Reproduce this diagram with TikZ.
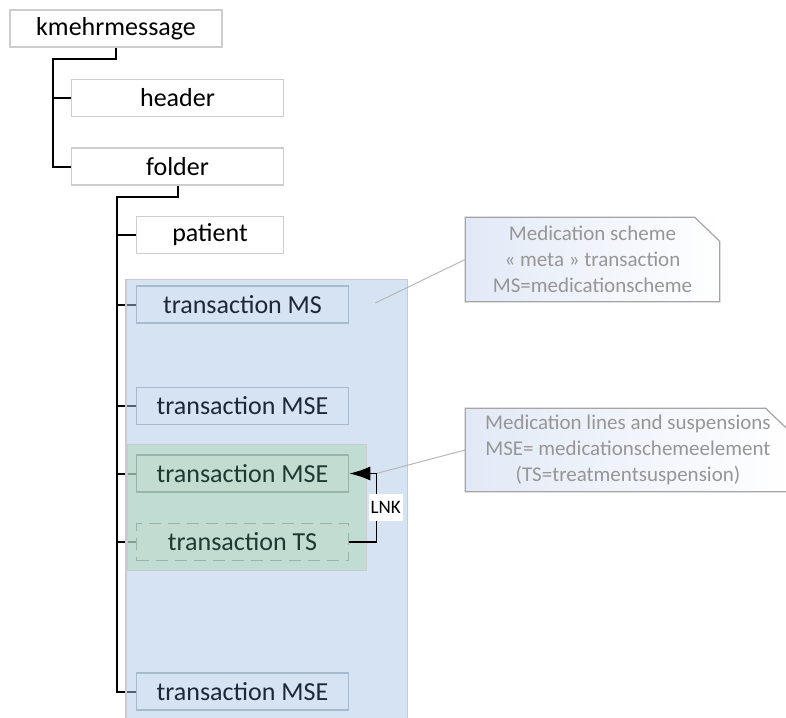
\documentclass[tikz,border=0pt]{standalone}
\usepackage{fontspec}
\setmainfont{Carlito}
\usetikzlibrary{positioning}
\usetikzlibrary{arrows.meta}
\usetikzlibrary{backgrounds}

\definecolor{boxgray}{RGB}{205,205,205}
\definecolor{msblue}{RGB}{214,227,242}
\definecolor{msfill}{RGB}{173,199,229}
\definecolor{msline}{RGB}{168,186,206}
\definecolor{mstext}{RGB}{28,40,56}
\definecolor{tsgreen}{RGB}{194,220,210}
\definecolor{tsfill}{RGB}{174,213,178}
\definecolor{tsline}{RGB}{150,180,168}
\definecolor{tstext}{RGB}{30,56,50}
\definecolor{frame}{RGB}{200,204,210}
\definecolor{notegray}{RGB}{165,165,165}
\definecolor{notetext}{RGB}{150,150,150}
\definecolor{noteblue}{RGB}{226,233,246}

\begin{document}
\begin{tikzpicture}[x=1pt,y=1pt,
        box/.style={draw=boxgray,line width=1.5pt,fill=white,minimum width=212pt,minimum height=37pt,inner sep=0pt,font=\fontsize{26}{30}\selectfont},
        msbox/.style={box,draw=msline,fill=msblue,text=mstext},
        tsbox/.style={box,draw=tsline,fill=tsgreen,text=tstext},
        tree/.style={line width=2pt,black},
        note/.style={rectangle,left color=noteblue,right color=white,text=notetext,align=center,inner sep=0pt,
            minimum height=84pt,font=\fontsize{21}{26}\selectfont},
        noteframe/.style={draw=notegray,line width=1.2pt,line join=miter},
        notelink/.style={draw=notegray!80,line width=1pt}
    ]
        \useasboundingbox (0,0) rectangle (786,-717);

        \node (kmehr) [box] at (116,-28.5) {kmehrmessage};
        \node (header) [box,below right=31pt and -152pt of kmehr] {header};
        \node (folder) [box,below=30pt of header] {folder};
        \node (patient) [box,minimum width=147pt,below left=30pt and 0pt of folder.south east] {patient};
        \node (ms) [msbox,below right=31pt and 0pt of patient.south west] {transaction MS};
        \node (mse1) [msbox,below=63pt of ms] {transaction MSE};
        \node (mse2) [tsbox,below=29pt of mse1] {transaction MSE};
        \node (ts) [tsbox,dash pattern=on 12pt off 7pt,below=30pt of mse2] {transaction TS};
        \node (mse3) [msbox,below=111pt of ts] {transaction MSE};

        \node (msnote) [note,minimum width=254pt,anchor=north west] at ([shift={(116pt,68pt)}]ms.north east)
            {Medication scheme\\« meta » transaction\\MS=medicationscheme};
        \node (msenote) [note,minimum width=325pt,minimum height=83pt,anchor=north west] at ([shift={(116pt,46pt)}]mse2.north east)
            {Medication lines and suspensions\\MSE= medicationschemeelement\\(TS=treatmentsuspension)};
        \foreach \n in {msnote,msenote}
            \draw[noteframe] (\n.north west) -- ([xshift=-25pt]\n.north east) -- ([yshift=-24pt]\n.north east)
                -- (\n.south east) -- (\n.south west) -- cycle;

        \coordinate (msend) at ([xshift=26pt,yshift=1.5pt]ms.east);
        \coordinate (lnkcorner) at ([xshift=27pt]mse2.east);

        \begin{scope}[on background layer]
            \draw[tree] (kmehr.south) -- ++(0,-11pt) -| ([xshift=-18pt]folder.west) -- (folder.west);
            \draw[tree] (header.west) -- ++(-18pt,0);
            \draw[tree] (folder.south) -- ++(0,-11pt) -| ([xshift=-19pt]mse3.west) -- (mse3.west);
            \foreach \n in {patient,ms,mse1,mse2,ts}
                \draw[tree] (\n.west) -- ++(-19pt,0);
            \draw[draw=frame,line width=1.5pt,fill=msfill,fill opacity=.5] ([xshift=-10pt,yshift=6pt]ms.north west) rectangle ([xshift=58pt,yshift=-30pt]mse3.south east);
            \draw[draw=frame,line width=1.5pt,fill=tsfill,fill opacity=.5] ([xshift=-9pt,yshift=10pt]mse2.north west) rectangle ([xshift=17pt,yshift=-9pt]ts.south east);
        \end{scope}

        \draw[notelink] (msnote.west) -- (msend);
        \draw[notelink] (msenote.west) -- (lnkcorner);
        \draw[-{Latex[length=21pt,width=14pt]},line width=1.5pt] (ts.east) -| node[pos=.75,xshift=9.5pt,fill=white,inner sep=2pt,minimum height=27pt,font=\fontsize{19}{22}\selectfont] {LNK} (lnkcorner) -- (mse2.east);
    \end{tikzpicture}
\end{document}
